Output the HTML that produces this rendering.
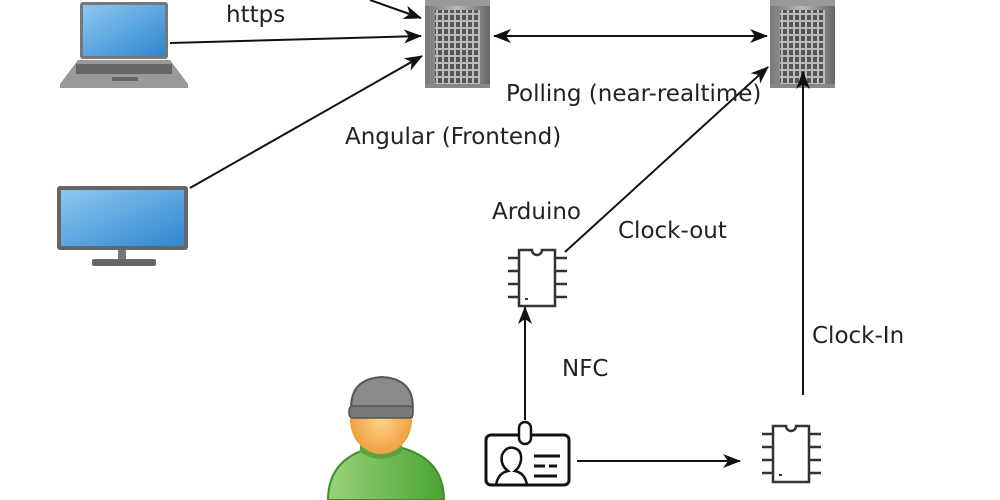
<!DOCTYPE html>
<html><head><meta charset="utf-8"><style>
html,body{margin:0;padding:0;background:#fff;width:1000px;height:500px;overflow:hidden}
text{font-family:"DejaVu Sans","Liberation Sans",sans-serif;font-size:23px;fill:#222}
</style></head><body>
<svg width="1000" height="500" viewBox="0 0 1000 500" xmlns="http://www.w3.org/2000/svg">
<defs>
<marker id="a" viewBox="0 0 18 14" refX="17" refY="7" markerWidth="18" markerHeight="14" markerUnits="userSpaceOnUse" orient="auto-start-reverse">
<path d="M0,0 L18,7 L0,14 L5,7 z" fill="#111"/></marker>
<linearGradient id="scr" x1="0" y1="0" x2="1" y2="1"><stop offset="0" stop-color="#8cc8f0"/><stop offset="1" stop-color="#2f86cf"/></linearGradient>
<linearGradient id="srv" x1="0" y1="0" x2="1" y2="0"><stop offset="0" stop-color="#777"/><stop offset="0.5" stop-color="#b8b8b8"/><stop offset="1" stop-color="#666"/></linearGradient>
<linearGradient id="grn" x1="0" y1="0" x2="1" y2="0"><stop offset="0" stop-color="#9ad27a"/><stop offset="1" stop-color="#4aa332"/></linearGradient>
<radialGradient id="skin"><stop offset="0" stop-color="#ffd38a"/><stop offset="1" stop-color="#f0a040"/></radialGradient>
<pattern id="grid" width="6" height="7" patternUnits="userSpaceOnUse"><rect width="6" height="7" fill="#bbb"/><rect x="1" y="1" width="4" height="5" fill="#555"/></pattern>
<g id="server">
<rect x="0" y="0" width="65" height="88" fill="url(#srv)"/>
<rect x="0" y="0" width="65" height="6" fill="#999"/>
<rect x="10" y="10" width="45" height="74" fill="url(#grid)"/>
<rect x="0" y="84" width="65" height="4" fill="#888"/>
</g>
<g id="chip" fill="none" stroke="#333" stroke-width="2.5">
<path d="M0,0 H13 a5,5 0 0 0 10,0 H36 V56 H0 Z"/>
<path d="M0,8 H-11 M0,21 H-11 M0,34 H-11 M0,47 H-11 M36,8 H48 M36,21 H48 M36,34 H48 M36,47 H48"/>
<rect x="6" y="48" width="3" height="2" fill="#333" stroke="none"/>
</g>
</defs>
<use href="#server" x="425" y="0"/>
<use href="#server" x="770" y="0"/>
<!-- laptop -->
<rect x="80" y="2" width="88" height="57" rx="3" fill="#777"/>
<rect x="83" y="5" width="82" height="51" fill="url(#scr)"/>
<path d="M78,60 H170 L188,84 V88 H60 V84 Z" fill="#999"/>
<rect x="76" y="64" width="96" height="10" fill="#666"/>
<rect x="112" y="77" width="26" height="4" fill="#666"/>
<!-- monitor -->
<rect x="57" y="186" width="131" height="64" rx="3" fill="#666"/>
<rect x="61" y="190" width="123" height="56" fill="url(#scr)"/>
<rect x="118" y="250" width="8" height="10" fill="#777"/>
<rect x="92" y="259" width="64" height="7" rx="2" fill="#666"/>
<g stroke="#111" stroke-width="2" fill="none">
<line x1="370" y1="0" x2="421" y2="18" marker-end="url(#a)"/>
<line x1="170" y1="43" x2="421" y2="36" marker-end="url(#a)"/>
<line x1="190" y1="188" x2="422" y2="56" marker-end="url(#a)"/>
<line x1="494" y1="36" x2="767" y2="36" marker-start="url(#a)" marker-end="url(#a)"/>
<line x1="565" y1="252" x2="768" y2="67" marker-end="url(#a)"/>
<line x1="803" y1="395" x2="803" y2="72" marker-end="url(#a)"/>
<line x1="525" y1="420" x2="525" y2="307" marker-end="url(#a)"/>
<line x1="577" y1="461" x2="740" y2="461" marker-end="url(#a)"/>
</g>
<use href="#chip" x="519" y="250"/>
<use href="#chip" x="773" y="426"/>
<!-- badge -->
<rect x="486" y="435" width="83" height="50" rx="5" fill="none" stroke="#111" stroke-width="3"/>
<rect x="519" y="422" width="12" height="22" rx="6" fill="#fff" stroke="#111" stroke-width="2.5"/>
<path d="M496,485 q2,-12 12,-14 q-8,-6 -6,-16 q4,-9 12,-7 q8,2 7,12 q-1,7 -6,11 q10,2 12,14" fill="none" stroke="#111" stroke-width="2.5"/>
<path d="M534,456 H560 M534,466 H545 M549,466 H557 M534,476 H557" stroke="#111" stroke-width="3"/>
<!-- person -->
<path d="M328,500 q0,-44 50,-54 h16 q50,10 50,54 Z" fill="url(#grn)" stroke="#3f8e2b" stroke-width="2"/>
<path d="M360,440 h42 v12 q-21,14 -42,0 Z" fill="#5aa53f"/>
<ellipse cx="381" cy="420" rx="31" ry="34" fill="url(#skin)"/>
<path d="M352,417 q-6,-38 30,-40 q36,2 30,40 Z" fill="#8a8a8a" stroke="#555" stroke-width="2"/>
<rect x="349" y="406" width="64" height="12" rx="4" fill="#777" stroke="#555" stroke-width="1.5"/>
<text x="226" y="22">https</text>
<text x="506" y="101">Polling (near-realtime)</text>
<text x="345" y="144">Angular (Frontend)</text>
<text x="492" y="219">Arduino</text>
<text x="618" y="238">Clock-out</text>
<text x="812" y="343">Clock-In</text>
<text x="562" y="376">NFC</text>
</svg>
</body></html>
